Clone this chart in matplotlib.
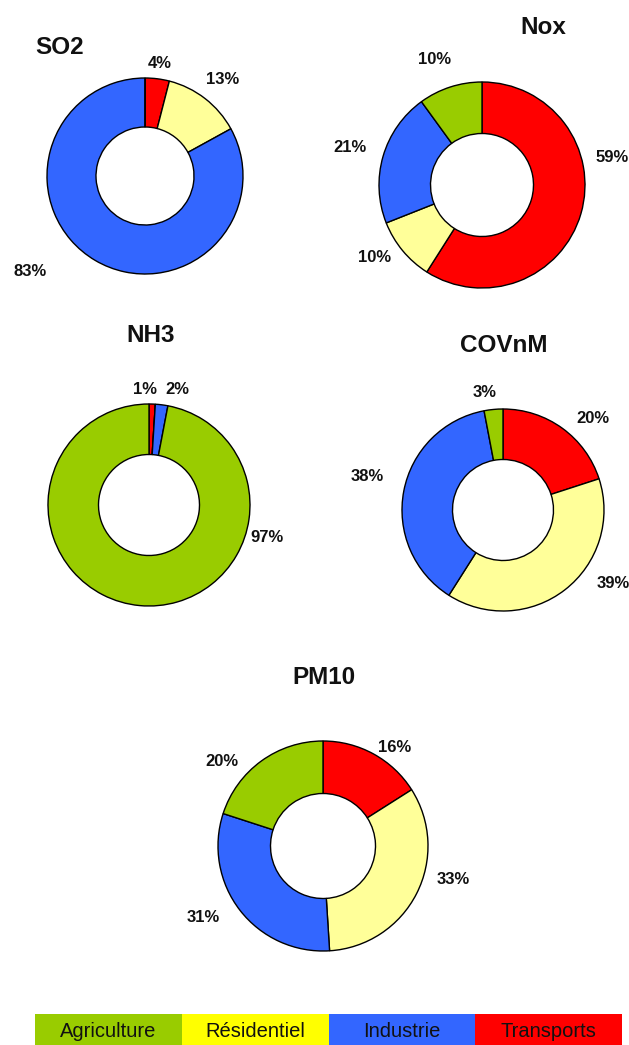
"""Répartition des émissions par secteur : cinq anneaux + bandeau de légende."""

import matplotlib

matplotlib.use("Agg")
import matplotlib.pyplot as plt
from matplotlib.patches import Rectangle

W, H = 629, 1045

sectors = ["Transports", "Résidentiel", "Industrie", "Agriculture"]
pie_colors = ["#FF0000", "#FFFF99", "#3366FF", "#99CC00"]

so2 = [4, 13, 83, 0]
nox = [59, 10, 21, 10]
nh3 = [1, 0, 2, 97]
covnm = [20, 39, 38, 3]
pm10 = [16, 33, 31, 20]

legend_labels = ["Agriculture", "Résidentiel", "Industrie", "Transports"]
legend_colors = ["#99CC00", "#FFFF00", "#3366FF", "#FF0000"]

# mise en page : centre, rayon, position du titre (px) et décalage des étiquettes
charts = [
    dict(title="SO2", vals=so2, cx=145, cy=176, r=98, tx=35, ty=47, ha="left",
         offs=[(15, -113), (78, -96), (-115, 96), None]),
    dict(title="Nox", vals=nox, cx=482, cy=185, r=103, tx=543, ty=27, ha="center",
         offs=[(130, -28), (-107, 72), (-132, -38), (-47, -125)]),
    dict(title="NH3", vals=nh3, cx=149, cy=505, r=101, tx=151, ty=335, ha="center",
         offs=[(-4, -115), None, (28, -115), (118, 33)]),
    dict(title="COVnM", vals=covnm, cx=503, cy=510, r=101, tx=504, ty=345, ha="center",
         offs=[(90, -92), (110, 73), (-136, -34), (-18, -118)]),
    dict(title="PM10", vals=pm10, cx=323, cy=846, r=105, tx=324, ty=677, ha="center",
         offs=[(72, -99), (130, 34), (-120, 71), (-101, -84)]),
]

plt.rcParams["font.family"] = ["Liberation Sans", "DejaVu Sans"]

fig = plt.figure(figsize=(W / 100, H / 100), dpi=100)
fig.patch.set_facecolor("white")

SPAN = 1.6
for c in charts:
    r = c["r"]
    half = SPAN * r
    ax = fig.add_axes([(c["cx"] - half) / W, 1 - (c["cy"] + half) / H,
                       2 * half / W, 2 * half / H])
    ax.pie(
        c["vals"],
        colors=pie_colors,
        startangle=90,
        counterclock=False,
        wedgeprops=dict(width=0.5, edgecolor="black", linewidth=1.0),
    )
    for v, off in zip(c["vals"], c["offs"]):
        if v <= 0 or off is None:
            continue
        ax.text(off[0] / r, -off[1] / r, f"{v}%", ha="center", va="center",
                fontsize=12, fontweight="bold", color="#111111")
    ax.set_xlim(-SPAN, SPAN)
    ax.set_ylim(-SPAN, SPAN)
    ax.set_aspect("equal")
    ax.axis("off")
    fig.text(c["tx"] / W, 1 - c["ty"] / H, c["title"], ha=c["ha"], va="center",
             fontsize=17.5, fontweight="bold", color="#111111")

# bandeau de légende
lax = fig.add_axes([35 / W, 0, (622 - 35) / W, (1045 - 1014) / H])
lax.set_xlim(0, len(legend_labels))
lax.set_ylim(0, 1)
lax.axis("off")
for i, (lab, col) in enumerate(zip(legend_labels, legend_colors)):
    lax.add_patch(Rectangle((i, 0), 1, 1, facecolor=col, edgecolor="none"))
    lax.text(i + 0.5, 0.45, lab, ha="center", va="center", fontsize=14.5, color="#111111")

fig.savefig("out.png", dpi=100)
